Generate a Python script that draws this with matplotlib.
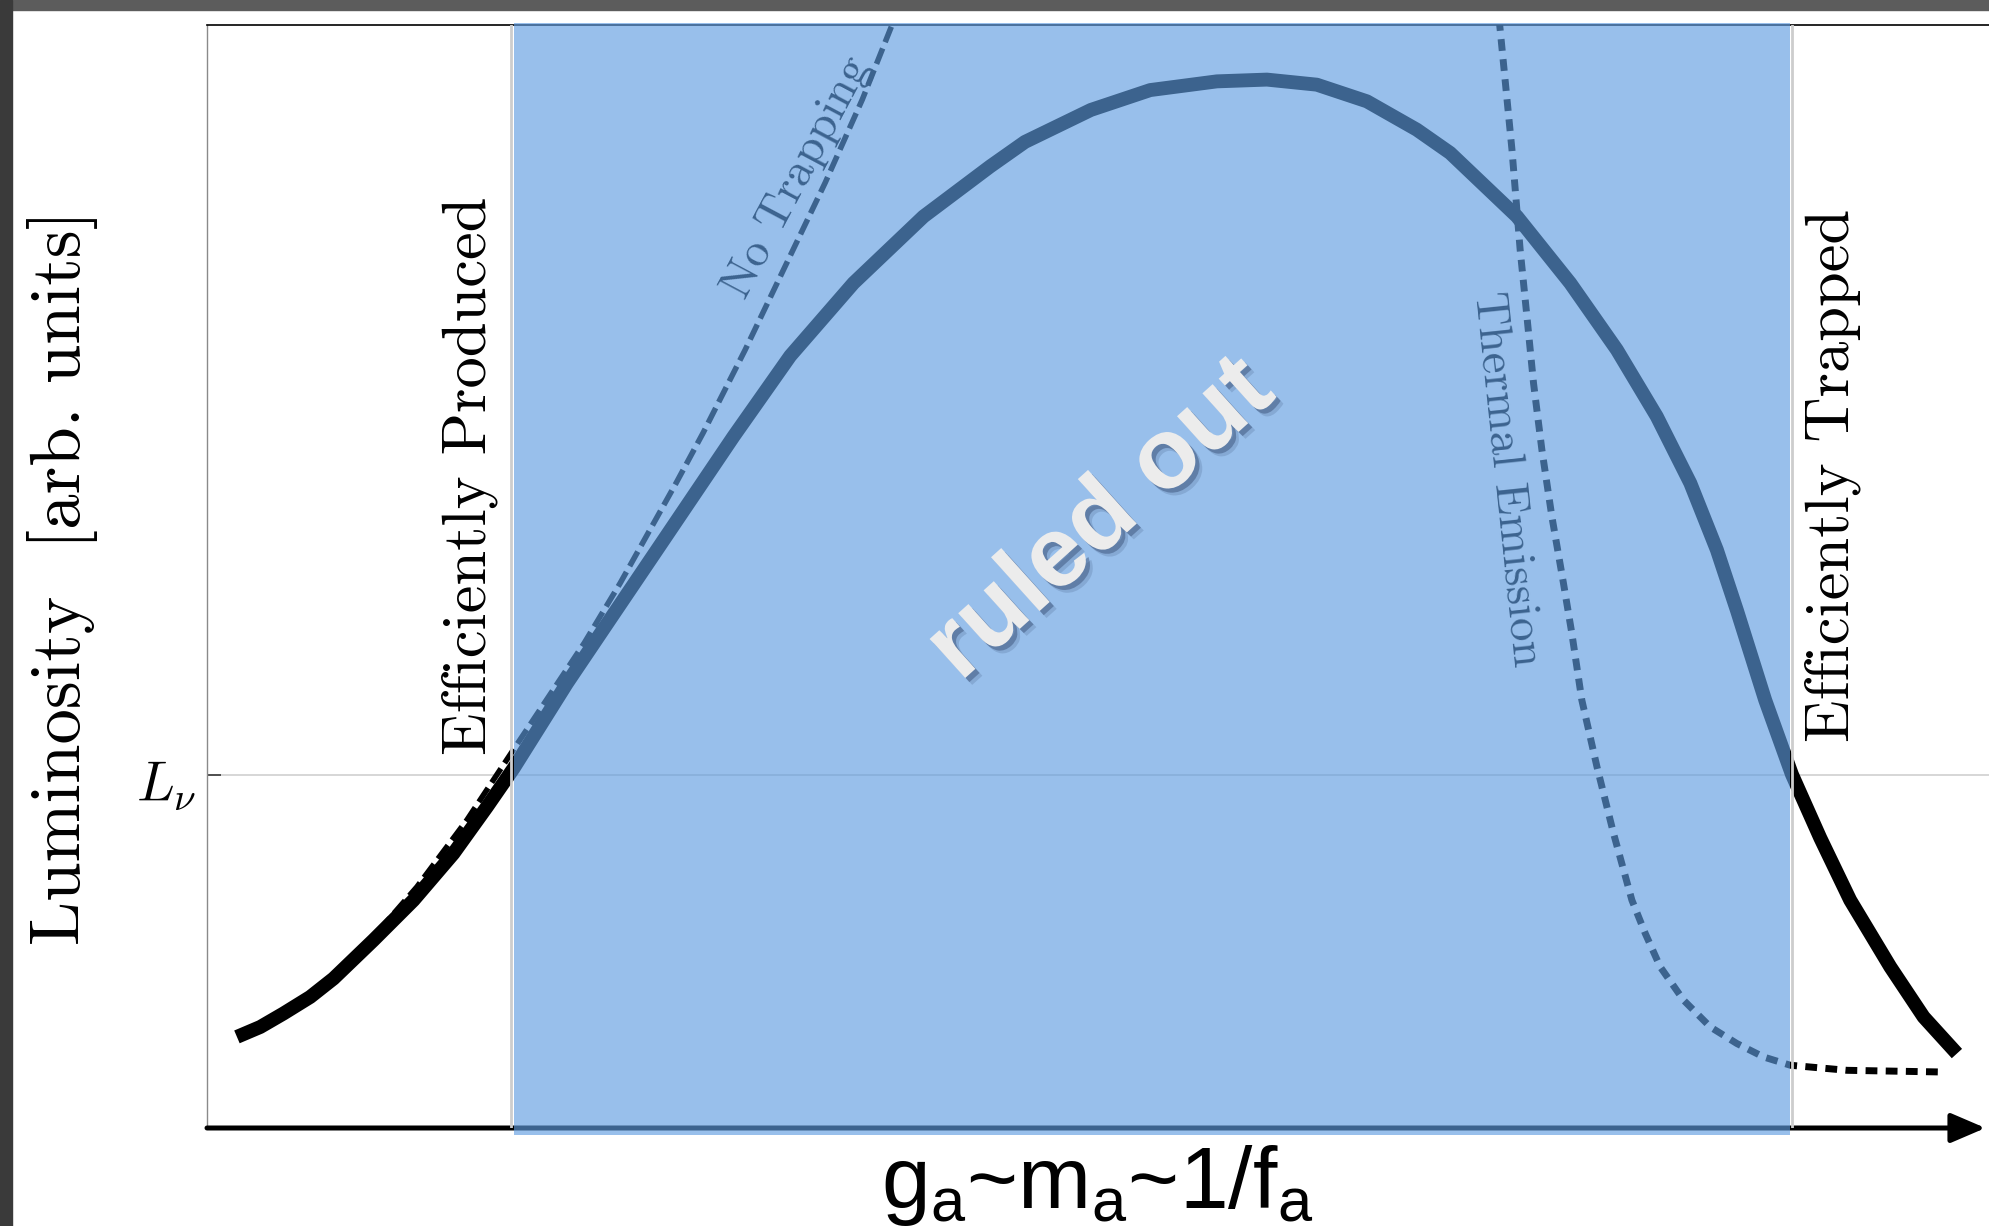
import matplotlib
matplotlib.use('Agg')
from matplotlib import pyplot as plt
from matplotlib import patheffects, transforms
from matplotlib.patches import Rectangle

# Plot box runs 0..100 in both directions (arbitrary units)
_LUM_X = [1.68, 2.99, 4.29, 5.79, 7.10, 9.34, 11.59, 13.83, 15.71, 17.20,
          20.20, 22.72, 25.25, 29.55, 32.73, 36.28, 40.21, 43.95, 45.90, 49.60,
          52.93, 56.67, 59.48, 62.28, 65.09, 67.89, 69.76, 73.51, 76.50, 79.12,
          81.36, 83.24, 84.73, 85.86, 87.44, 88.94, 90.53, 92.21, 94.46, 96.33,
          98.20]
_LUM_Y = [8.26, 9.16, 10.38, 11.88, 13.55, 17.03, 20.66, 24.89, 29.12, 32.60,
          40.32, 46.36, 52.41, 62.70, 70.00, 76.60, 82.64, 87.18, 89.40, 92.30,
          94.10, 94.89, 95.05, 94.59, 93.08, 90.51, 88.40, 82.64, 76.60, 70.55,
          64.50, 58.46, 52.41, 46.90, 38.80, 32.06, 26.30, 20.66, 14.61, 10.07,
          6.75]

_NO_TRAP_X = [8.78, 11.78, 14.58, 17.18, 21.17, 23.19, 26.33, 27.84, 30.20,
              32.44, 34.69, 36.77, 38.45, 39.00]
_NO_TRAP_Y = [16.28, 21.86, 27.91, 34.26, 43.97, 49.41, 58.49, 63.02, 70.55,
              78.11, 85.70, 93.23, 100.04, 102.5]

_THERMAL_X = [72.40, 72.54, 73.23, 73.69, 74.07, 74.44, 74.91, 75.47, 76.12,
              76.59, 77.15, 78.00, 78.93, 79.96, 80.71, 81.55, 82.86, 84.36,
              85.85, 87.35, 88.85, 92.03, 97.26]
_THERMAL_Y = [102.6, 100.03, 88.70, 79.62, 73.57, 67.53, 61.48, 55.43, 49.39,
              44.85, 38.80, 32.75, 26.71, 20.66, 17.64, 14.61, 11.59, 9.16,
              7.66, 6.44, 5.69, 5.23, 5.08]

_RULED_OUT = (17.20, 88.84)
_L_NU = 32.0

_W, _H = 1989, 1226
_SERIF = 'cmr10'
_SANS = 'Liberation Sans'

plt.rcParams['mathtext.fontset'] = 'custom'
plt.rcParams['mathtext.rm'] = _SANS
plt.rcParams['mathtext.it'] = _SANS + ':italic'
plt.rcParams['mathtext.bf'] = _SANS + ':bold'

fig = plt.figure(figsize=(_W / 100, _H / 100), dpi=100)

# dark screenshot frame on top and left
fig.patches.append(Rectangle((0, 1 - 10 / _H), 1, 10 / _H, transform=fig.transFigure,
                             color='#5c5c5c', zorder=0))
fig.patches.append(Rectangle((0, 0), 12 / _W, 1, transform=fig.transFigure,
                             color='#3a3a3a', zorder=0))

ax = fig.add_axes([207 / _W, 98 / _H, (_W - 207) / _W, 1103 / _H])
ax.set_xlim(0, 100)
ax.set_ylim(0, 100)
ax.set_xticks([])
ax.set_yticks([_L_NU])
ax.set_yticklabels([''])
ax.tick_params(axis='y', direction='in', length=10, width=1.3, colors='#444444')
ax.spines['right'].set_visible(False)
ax.spines['bottom'].set_visible(False)
ax.spines['top'].set_linewidth(1.2)
ax.spines['left'].set_color('#8a8a8a')
ax.spines['left'].set_linewidth(1.0)

ax.axhline(_L_NU, color='#cfcfcf', lw=1.2, zorder=1)

# x axis with arrow head
ax.annotate('', xy=(0.998, 0), xytext=(0, 0), xycoords='axes fraction',
            arrowprops=dict(arrowstyle='-|>,head_length=0.7,head_width=0.3',
                            lw=3.6, color='k', mutation_scale=30,
                            shrinkA=0, shrinkB=0),
            annotation_clip=False, zorder=3)

ax.plot(_NO_TRAP_X, _NO_TRAP_Y, color='k', lw=4.0, dashes=(3, 1.2),
        dash_capstyle='butt', zorder=3)
ax.plot(_THERMAL_X, _THERMAL_Y, color='k', lw=5.0, dashes=(1.7, 1.2),
        dash_capstyle='butt', zorder=3)
ax.plot(_LUM_X, _LUM_Y, color='k', lw=10, solid_capstyle='butt',
        solid_joinstyle='round', zorder=4)

ax.text(33.1, 86.2, 'No Trapping', fontfamily=_SERIF, fontsize=34,
        rotation=62, ha='center', va='center', zorder=3)
ax.text(72.9, 58.8, 'Thermal Emission', fontfamily=_SERIF, fontsize=34,
        rotation=-84, ha='center', va='center', zorder=3)

# soft rim at the band edges, then the translucent blue sheet over everything
for edge in (_RULED_OUT[0] - 0.12, _RULED_OUT[1] + 0.12):
    ax.axvline(edge, color='#cdcdcd', lw=2.0, zorder=4.5)
ax.axvspan(_RULED_OUT[0], _RULED_OUT[1], ymin=-0.006, ymax=1.002,
           color='#5f9ce0', alpha=0.64, lw=0, zorder=5, clip_on=False)

ax.text(50.2, 55.1, 'ruled out', fontfamily=_SANS, fontweight='bold',
        fontsize=72, color='#ececec', rotation=42, ha='center', va='center',
        zorder=6,
        path_effects=[
            patheffects.SimplePatchShadow(offset=(5, -5), shadow_rgbFace='#1c2f55',
                                          alpha=0.15),
            patheffects.SimplePatchShadow(offset=(3, -3), shadow_rgbFace='#1c2f55',
                                          alpha=0.35),
            patheffects.Normal()])

ax.text(14.73, 59.15, 'Efficiently Produced', fontfamily=_SERIF, fontsize=45,
        rotation=90, ha='center', va='center', zorder=6)
ax.text(91.24, 59.15, 'Efficiently Trapped', fontfamily=_SERIF, fontsize=45,
        rotation=90, ha='center', va='center', zorder=6)

trans = transforms.blended_transform_factory(ax.transAxes, ax.transData)
ax.text(-0.006, 31.0, r'$L_\nu$', transform=trans, fontsize=40,
        math_fontfamily='cm', ha='right', va='center', zorder=6)

fig.text(63 / _W, 1 - 577 / _H, 'Luminosity  [arb. units]', fontfamily=_SERIF,
         fontsize=51, rotation=90, ha='center', va='center')
fig.text(1097 / _W, 18 / _H, r'$\mathrm{g_a}$~$\mathrm{m_a}$~1/$\mathrm{f_a}$',
         fontfamily=_SANS, fontsize=63, ha='center', va='baseline')

fig.savefig('out.png', dpi=100)
